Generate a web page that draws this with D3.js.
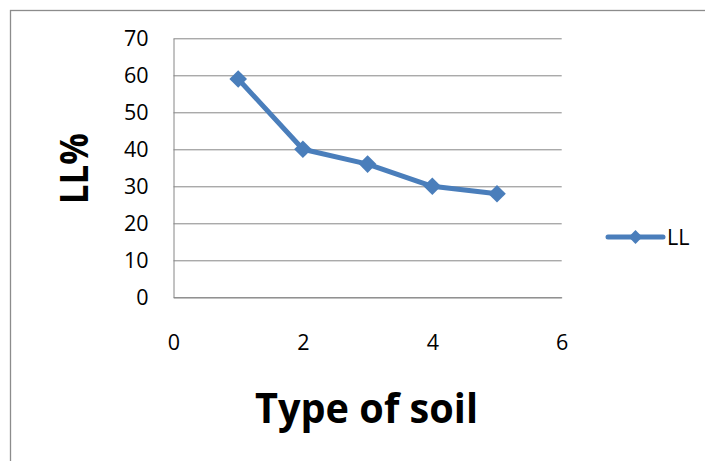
<!DOCTYPE html>
<html>
<head>
<meta charset="utf-8">
<script src="https://cdn.jsdelivr.net/npm/d3@7"></script>
<style>
  html, body { margin: 0; padding: 0; background: #fff; }
  svg { display: block; font-family: "Open Sans", sans-serif; }
</style>
</head>
<body>
<div id="chart"></div>
<script>
// Chart values
const soilType = [1, 2, 3, 4, 5];
const llValues = [59, 40, 36, 30, 28];
const xTicks = [0, 2, 4, 6];
const yTicks = [0, 10, 20, 30, 40, 50, 60, 70];
const seriesName = "LL";
const xTitle = "Type of soil";
const yTitle = "LL%";

let full_width = 705;
let full_height = 461;
let margin = {top: 38.3, left: 173.5};
let width = 561.7 - margin.left;
let height = 297.3 - margin.top;
const blue = "#4a7ebb";
const grey = "#868686";

const svg = d3.select('#chart')
	.append('svg')
		.attr('width', full_width)
		.attr('height', full_height);

// Outer chart border (left and top visible only)
svg.append('rect')
	.attr('x', 10.5).attr('y', 10.5)
	.attr('width', 720).attr('height', 480)
	.attr('fill', 'none')
	.attr('stroke', '#8c8c8c')
	.attr('stroke-width', 1.3);

const g = svg.append('g')
	.attr('transform', 'translate(' + margin.left + ',' + margin.top + ')');

let x = d3.scaleLinear().domain([0, 6]).range([0, width]);
let y = d3.scaleLinear().domain([0, 70]).range([height, 0]);

// Y axis with gridlines
const yAxis = g.append('g')
	.call(d3.axisLeft(y).tickValues(yTicks).tickFormat(d3.format('d'))
		.tickSize(-width).tickSizeOuter(0).tickPadding(25));
yAxis.select('.domain').attr('stroke', grey);
yAxis.selectAll('.tick line').attr('stroke', grey).attr('stroke-width', 1);
yAxis.selectAll('text').attr('font-size', 21.5).attr('fill', '#000')
	.attr('font-family', '"Open Sans", sans-serif');

// X axis
const xAxis = g.append('g')
	.attr('transform', 'translate(0,' + height + ')')
	.call(d3.axisBottom(x).tickValues(xTicks).tickFormat(d3.format('d'))
		.tickSize(0).tickPadding(37));
xAxis.select('.domain').attr('stroke', grey);
xAxis.selectAll('text').attr('font-size', 21.5).attr('fill', '#000')
	.attr('font-family', '"Open Sans", sans-serif');

// Series line
const data = soilType.map((s, i) => ({x: s, y: llValues[i]}));
g.append('path')
	.datum(data)
	.attr('fill', 'none')
	.attr('stroke', blue)
	.attr('stroke-width', 5)
	.attr('stroke-linejoin', 'round')
	.attr('d', d3.line().x(d => x(d.x)).y(d => y(d.y)));

const diamond = d3.symbol().type(d3.symbolSquare).size(155);
g.append('g')
	.selectAll('path')
	.data(data)
	.enter()
	.append('path')
		.attr('d', diamond)
		.attr('fill', blue)
		.attr('transform', d => 'translate(' + x(d.x) + ',' + y(d.y) + ') rotate(45)');

// Axis titles
svg.append('text')
	.attr('x', 366.5)
	.attr('y', 423)
	.attr('text-anchor', 'middle')
	.attr('font-size', 41)
	.attr('font-weight', 'bold')
	.attr('textLength', 223)
	.attr('lengthAdjust', 'spacingAndGlyphs')
	.text(xTitle);

svg.append('text')
	.attr('transform', 'translate(88,168.8) rotate(-90)')
	.attr('text-anchor', 'middle')
	.attr('font-size', 40)
	.attr('font-weight', 'bold')
	.attr('textLength', 71)
	.attr('lengthAdjust', 'spacingAndGlyphs')
	.text(yTitle);

// Legend
const legend = svg.append('g');
legend.append('line')
	.attr('x1', 608).attr('x2', 663)
	.attr('y1', 237).attr('y2', 237)
	.attr('stroke', blue)
	.attr('stroke-width', 5)
	.attr('stroke-linecap', 'round');
legend.append('path')
	.attr('d', d3.symbol().type(d3.symbolSquare).size(95))
	.attr('fill', blue)
	.attr('transform', 'translate(635.5,237) rotate(45)');
legend.append('text')
	.attr('x', 667)
	.attr('y', 237.5)
	.attr('dy', '0.35em')
	.attr('font-size', 21.5)
	.text(seriesName);
</script>
</body>
</html>
